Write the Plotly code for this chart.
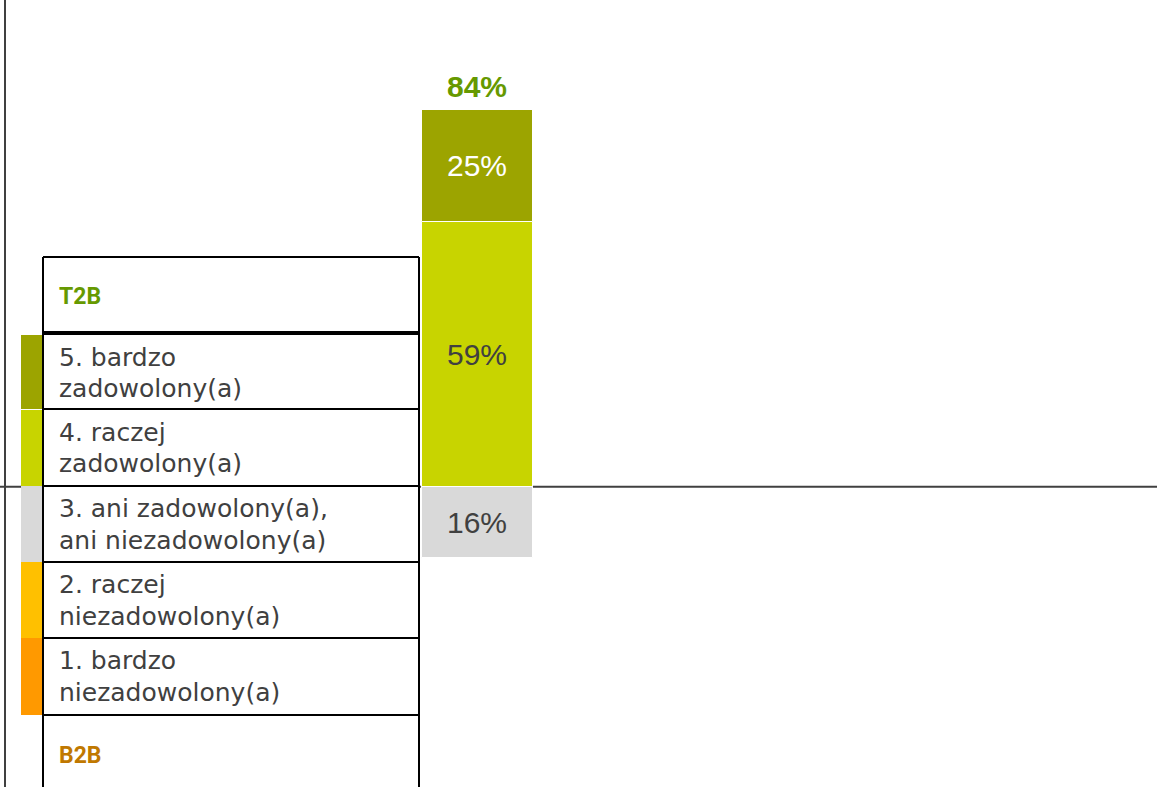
import plotly.graph_objects as go

# ---- data ----
categories = [
    "5. bardzo\nzadowolony(a)",
    "4. raczej\nzadowolony(a)",
    "3. ani zadowolony(a),\nani niezadowolony(a)",
    "2. raczej\nniezadowolony(a)",
    "1. bardzo\nniezadowolony(a)",
]
values = [25, 59, 16, 0, 0]
signs = [1, 1, -1, -1, -1]
colors = ["#9CA400", "#C8D400", "#D9D9D9", "#FFC000", "#FF9900"]
label_colors = ["#FFFFFF", "#404040", "#404040", "#404040", "#404040"]
group_top = "T2B"
group_bottom = "B2B"
bar_x = [0]

W, H = 1157, 787

fig = go.Figure()

# stacking order: nearest to zero first
order = [1, 0, 2, 3, 4]
for i in order:
    v = values[i]
    fig.add_trace(go.Bar(
        x=bar_x, y=[signs[i] * v], width=1,
        marker=dict(color=colors[i], line=dict(color="white", width=1)),
        text=[f"{v}%" if v > 0 else ""], textposition="inside",
        insidetextanchor="middle",
        textfont=dict(family="Liberation Sans, Arial", size=30, color=label_colors[i]),
        showlegend=False, hoverinfo="skip",
    ))

t2b = sum(v for v, s in zip(values, signs) if s > 0)
fig.add_annotation(x=bar_x[0], y=t2b, text=f"<b>{t2b}%</b>", showarrow=False,
                   yanchor="bottom", yshift=5,
                   font=dict(family="Liberation Sans, Arial", size=30, color="#669900"))

def px(x):
    return x / W

def py(y):
    return 1 - y / H

shapes = []
# axis lines
shapes.append(dict(type="line", xref="paper", yref="paper", x0=px(5), x1=px(5), y0=0, y1=1,
                   line=dict(color="#404040", width=2), layer="below"))
shapes.append(dict(type="line", xref="paper", yref="y", x0=0, x1=1, y0=0, y1=0,
                   line=dict(color="#404040", width=2), layer="below"))

# legend table geometry (pixels)
tl, tr = 43, 419
row_tops = [335, 410, 486, 562, 638]
row_bots = [409, 486, 562, 638, 715]
# white background of table
shapes.append(dict(type="rect", xref="paper", yref="paper", x0=px(tl), x1=px(tr),
                   y0=py(257), y1=0, fillcolor="white", line=dict(width=0), layer="above"))
# swatches
for i, c in enumerate(colors):
    shapes.append(dict(type="rect", xref="paper", yref="paper", x0=px(21), x1=px(tl),
                       y0=py(row_bots[i]), y1=py(row_tops[i]), fillcolor=c,
                       line=dict(width=0), layer="above"))
# borders
for yy in [257, 409, 486, 562, 638, 715]:
    shapes.append(dict(type="line", xref="paper", yref="paper", x0=px(tl), x1=px(tr),
                       y0=py(yy), y1=py(yy), line=dict(color="#000000", width=2), layer="above"))
shapes.append(dict(type="line", xref="paper", yref="paper", x0=px(tl), x1=px(tr),
                   y0=py(333), y1=py(333), line=dict(color="#000000", width=4), layer="above"))
for xx in [tl, tr]:
    shapes.append(dict(type="line", xref="paper", yref="paper", x0=px(xx), x1=px(xx),
                       y0=0, y1=py(257), line=dict(color="#000000", width=2), layer="above"))

fig.update_layout(shapes=shapes)

lf = dict(family="DejaVu Sans", size=25, color="#404040")
for i, cat in enumerate(categories):
    lines = cat.split("\n")
    for j, ln in enumerate(lines):
        fig.add_annotation(xref="paper", yref="paper", x=px(57), y=py(row_tops[i] + 22 + 32 * j),
                           text=ln, showarrow=False, xanchor="left", yanchor="middle", font=lf)

fig.add_annotation(xref="paper", yref="paper", x=px(57), y=py(297), text=f"<b>{group_top}</b>",
                   showarrow=False, xanchor="left", yanchor="middle",
                   font=dict(family="Roboto", size=23, color="#669900"))
fig.add_annotation(xref="paper", yref="paper", x=px(57), y=py(755), text=f"<b>{group_bottom}</b>",
                   showarrow=False, xanchor="left", yanchor="middle",
                   font=dict(family="Roboto", size=23, color="#C07800"))

fig.update_layout(
    width=W, height=H, margin=dict(l=0, r=0, t=0, b=0),
    paper_bgcolor="white", plot_bgcolor="white",
    barmode="relative", bargap=0,
    xaxis=dict(range=[-4.30, 6.12], visible=False, fixedrange=True),
    yaxis=dict(range=[-67, 108.6], visible=False, fixedrange=True, zeroline=False),
)

fig.write_html("out.html", config={"displayModeBar": False},
               post_script="document.body.style.margin='0';")
